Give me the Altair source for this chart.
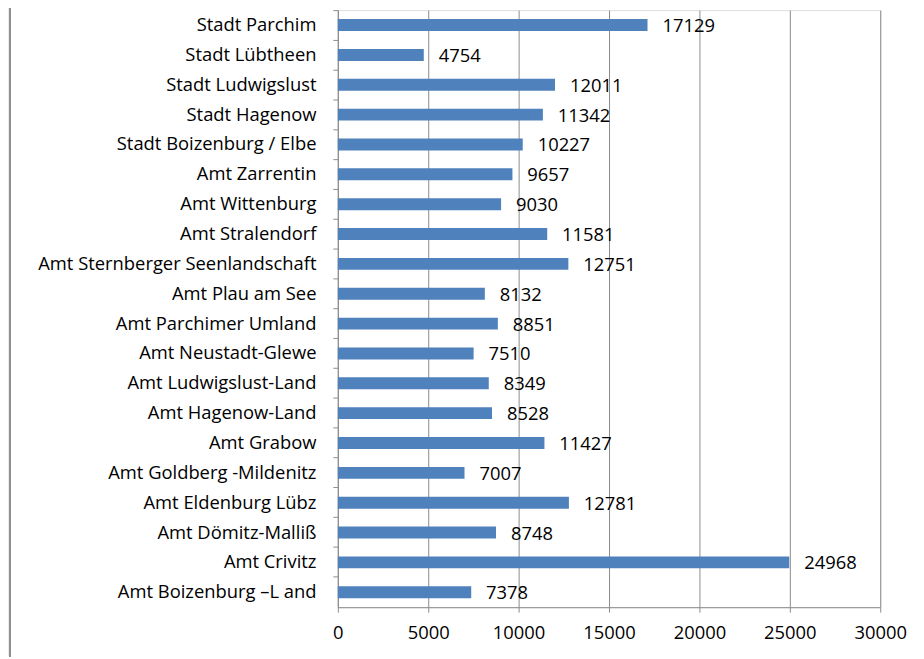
import altair as alt
import pandas as pd

categories = [
    "Stadt Parchim", "Stadt Lübtheen", "Stadt Ludwigslust", "Stadt Hagenow",
    "Stadt Boizenburg / Elbe", "Amt Zarrentin", "Amt Wittenburg", "Amt Stralendorf",
    "Amt Sternberger Seenlandschaft", "Amt Plau am See", "Amt Parchimer Umland",
    "Amt Neustadt-Glewe", "Amt Ludwigslust-Land", "Amt Hagenow-Land", "Amt Grabow",
    "Amt Goldberg -Mildenitz", "Amt Eldenburg Lübz", "Amt Dömitz-Malliß",
    "Amt Crivitz", "Amt Boizenburg –L and",
]
values = [17129, 4754, 12011, 11342, 10227, 9657, 9030, 11581, 12751, 8132,
          8851, 7510, 8349, 8528, 11427, 7007, 12781, 8748, 24968, 7378]
x_ticks = [0, 5000, 10000, 15000, 20000, 25000, 30000]

df = pd.DataFrame({"name": categories, "value": values})

FONT = "Open Sans"
FS = 18.5
BAR = "#4F81BD"
GRID = "#8C8C8C"

y_enc = alt.Y("name:N", sort=categories, title=None,
              scale=alt.Scale(paddingInner=0.0, paddingOuter=0.0),
              axis=alt.Axis(labelFont=FONT, labelFontSize=FS, labelColor="#000000",
                            labelPadding=17, tickSize=5, tickColor=GRID,
                            domainColor=GRID, bandPosition=0, labelLimit=400))
x_enc = alt.X("value:Q", title=None,
              scale=alt.Scale(domain=[0, 30000], nice=False),
              axis=alt.Axis(values=x_ticks, format="d", labelFont=FONT, labelFontSize=FS,
                            labelColor="#000000", labelPadding=12, tickSize=5,
                            tickColor=GRID, domainColor=GRID, grid=True,
                            gridColor=GRID, gridOpacity=1, labelFlush=False))

bars = alt.Chart(df).mark_bar(color=BAR, size=12).encode(x=x_enc, y=y_enc)
labels = alt.Chart(df).mark_text(align="left", baseline="middle", dx=15, dy=1,
                                 font=FONT, fontSize=FS, color="#000000").encode(
    x="value:Q", y=alt.Y("name:N", sort=categories), text="value:Q")
frame = alt.Chart(df).mark_rule(color="#909090", strokeWidth=2).encode(
    x=alt.value(-330), y=alt.value(-8), y2=alt.value(651))

chart = alt.layer(bars, labels, frame).properties(
    width=546, height=601,
    autosize=alt.AutoSizeParams(type="none"),
    padding={"left": 332, "top": 0, "right": 36, "bottom": 50},
).configure_view(stroke=None).configure(background="#ffffff")

chart.save("out.html", embed_options={"renderer": "svg", "actions": False})
